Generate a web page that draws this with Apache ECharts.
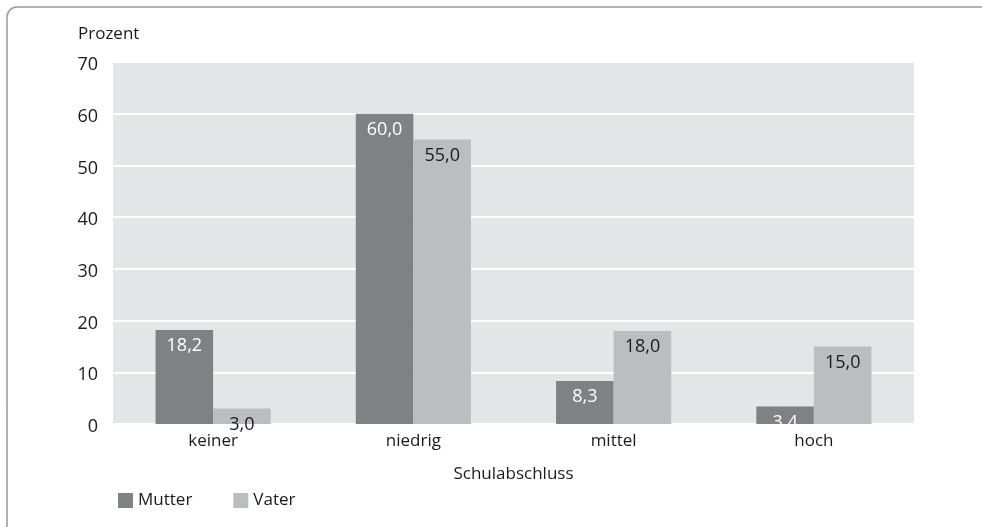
<!DOCTYPE html>
<html><head><meta charset="utf-8">
<script src="https://cdn.jsdelivr.net/npm/echarts@6/dist/echarts.min.js"></script>
<style>html,body{margin:0;padding:0;background:#fff}#c{width:982px;height:527px}</style>
</head><body><div id="c"></div>
<script>
const categories = ['keiner', 'niedrig', 'mittel', 'hoch'];
const mutter = [18.2, 60.0, 8.3, 3.4];
const vater = [3.0, 55.0, 18.0, 15.0];
const seriesNames = ['Mutter', 'Vater'];
const yTicks = [0, 10, 20, 30, 40, 50, 60, 70];

const FONT = 'Open Sans';
const chart = echarts.init(document.getElementById('c'), null, {renderer: 'canvas'});
const fmt = p => p.value.toFixed(1).replace('.', ',');
chart.setOption({
  animation: false,
  textStyle: {fontFamily: FONT},
  title: {text: 'Prozent', left: 78, top: 26, padding: 0,
    textStyle: {fontFamily: FONT, fontSize: 17, fontWeight: 'normal', color: '#1a1a1a'}},
  graphic: [{type: 'rect', shape: {x: 7, y: 7, width: 1100, height: 600, r: 10},
    style: {fill: 'none', stroke: '#9a9a9a', lineWidth: 1.5}, silent: true}],
  legend: {left: 113, top: 487, itemWidth: 15, itemHeight: 15, itemGap: 41, icon: 'rect',
    data: seriesNames,
    textStyle: {fontFamily: FONT, fontSize: 17, color: '#1a1a1a', padding: [0, 0, 0, 0]}},
  grid: {left: 113, right: 68, top: 62, bottom: 103, show: true, backgroundColor: '#e4e5e6', borderWidth: 0},
  xAxis: {type: 'category', data: categories, name: 'Schulabschluss', nameLocation: 'middle', nameGap: 42,
    nameTextStyle: {fontFamily: FONT, fontSize: 17, color: '#1a1a1a'},
    axisLine: {show: false}, axisTick: {show: false},
    axisLabel: {fontFamily: FONT, fontSize: 17, color: '#1a1a1a', margin: 9}},
  yAxis: {type: 'value', min: yTicks[0], max: yTicks[yTicks.length - 1], interval: 10,
    axisLine: {show: false}, axisTick: {show: false},
    splitLine: {lineStyle: {color: '#ffffff', width: 2}},
    axisLabel: {fontFamily: FONT, fontSize: 18, color: '#1a1a1a', margin: 15,
      verticalAlign: 'top', lineHeight: 6}},
  series: [
    {name: seriesNames[0], type: 'bar', data: mutter, barGap: '0%', barCategoryGap: '42.5%',
      itemStyle: {color: '#808184'},
      label: {show: true, position: 'insideTop', distance: 7, formatter: fmt,
        fontFamily: FONT, fontSize: 18, color: '#ffffff'}},
    {name: seriesNames[1], type: 'bar', data: vater, barGap: '0%', barCategoryGap: '42.5%',
      itemStyle: {color: '#bcbdc0'},
      label: {show: true, position: 'insideTop', distance: 7, formatter: fmt,
        fontFamily: FONT, fontSize: 18, color: '#1a1a1a'}}
  ]
});
</script></body></html>
